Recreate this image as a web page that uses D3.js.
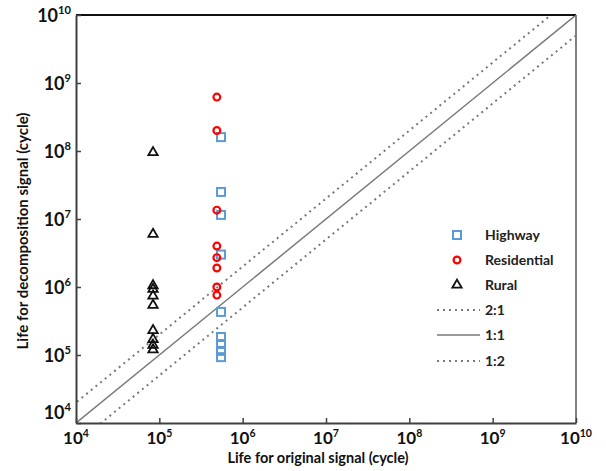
<!DOCTYPE html>
<html>
<head>
<meta charset="utf-8">
<script src="https://cdn.jsdelivr.net/npm/d3@7"></script>
<style>
  body { margin: 0; background: #fff; }
  svg { font-family: Lato, "Open Sans", sans-serif; font-weight: bold; }
</style>
</head>
<body>
<svg id="chart"></svg>
<script>
// decades shown on both axes
const tickExponents = [4, 5, 6, 7, 8, 9, 10];

// Highway (original life, decomposition life)
const highwayOriginal = [5.5e5, 5.5e5, 5.5e5, 5.5e5, 5.5e5, 5.5e5, 5.5e5, 5.5e5, 5.5e5];
const highwayDecomp = [1.6e8, 2.5e7, 1.15e7, 3.0e6, 4.3e5, 1.84e5, 1.45e5, 1.15e5, 9.3e4];

// Residential
const residentialOriginal = [4.9e5, 4.9e5, 4.9e5, 4.9e5, 4.9e5, 4.9e5, 4.9e5, 4.9e5];
const residentialDecomp = [6.2e8, 2.0e8, 1.35e7, 4.0e6, 2.7e6, 1.9e6, 1.0e6, 7.6e5];

// Rural
const ruralOriginal = [8.4e4, 8.4e4, 8.4e4, 8.4e4, 8.4e4, 8.4e4, 8.4e4, 8.4e4, 8.4e4, 8.4e4];
const ruralDecomp = [9.5e7, 6.0e6, 1.05e6, 9.3e5, 7.4e5, 5.4e5, 2.3e5, 1.7e5, 1.4e5, 1.2e5];

// reference lines: label and ratio decomp/original
const refLabels = ['2:1', '1:1', '1:2'];
const refRatios = [2, 1, 0.5];

const width = 606, height = 471;
const margin = { top: 15, right: 30, bottom: 48, left: 76 };
const lo = 1e4, hi = 1e10;

const svg = d3.select('#chart').attr('width', width).attr('height', height);

const x = d3.scaleLog().domain([lo, hi]).range([margin.left, width - margin.right]);
const y = d3.scaleLog().domain([lo, hi]).range([height - margin.bottom, margin.top]);

const lineGray = '#7a7a7a';

// clip for the ratio lines
svg.append('clipPath').attr('id', 'plotClip')
  .append('rect')
  .attr('x', x(lo)).attr('y', y(hi))
  .attr('width', x(hi) - x(lo)).attr('height', y(lo) - y(hi));

// ratio lines
const lineGen = d3.line().x(d => x(d[0])).y(d => y(d[1]));
refRatios.forEach((r, i) => {
  svg.append('path')
    .datum([[lo / 4, lo / 4 * r], [hi * 4, hi * 4 * r]])
    .attr('clip-path', 'url(#plotClip)')
    .attr('d', lineGen)
    .attr('fill', 'none')
    .attr('stroke', lineGray)
    .attr('stroke-width', r === 1 ? 1.5 : 2)
    .attr('stroke-dasharray', r === 1 ? null : '2,4');
});

// frame
svg.append('line').attr('x1', x(lo)).attr('x2', x(hi)).attr('y1', y(hi)).attr('y2', y(hi))
  .attr('stroke', '#111').attr('stroke-width', 2);
svg.append('line').attr('x1', x(hi)).attr('x2', x(hi)).attr('y1', y(hi)).attr('y2', y(lo))
  .attr('stroke', '#808080').attr('stroke-width', 2);

const tickVals = tickExponents.map(e => Math.pow(10, e));

const xAxis = svg.append('g')
  .attr('transform', `translate(0,${y(lo)})`)
  .call(d3.axisBottom(x).tickValues(tickVals).tickSize(-5).tickSizeOuter(0).tickFormat(''));
const yAxis = svg.append('g')
  .attr('transform', `translate(${x(lo)},0)`)
  .call(d3.axisLeft(y).tickValues(tickVals).tickSize(-5).tickSizeOuter(0).tickFormat(''));
[xAxis, yAxis].forEach(g => {
  g.select('.domain').attr('stroke', '#404040').attr('stroke-width', 2);
  g.selectAll('.tick line').attr('stroke', '#404040').attr('stroke-width', 1.5);
});

// tick labels with superscripts
function powLabel(g, e, size) {
  g.append('tspan').text('10').attr('font-size', size);
  g.append('tspan').text(e).attr('font-size', size * 0.62).attr('dy', -size * 0.42);
}
tickExponents.forEach(e => {
  const t = svg.append('text')
    .attr('x', x(Math.pow(10, e)))
    .attr('y', 444)
    .attr('text-anchor', 'middle')
    .attr('fill', '#111');
  powLabel(t, e, 17);
});
tickExponents.forEach(e => {
  const yy = e === 4 ? y(lo) - 4 : y(Math.pow(10, e)) + 7;
  const t = svg.append('text')
    .attr('x', 71)
    .attr('y', yy)
    .attr('text-anchor', 'end')
    .attr('fill', '#111');
  powLabel(t, e, 18);
});

// axis titles
svg.append('text')
  .attr('x', (x(lo) + x(hi)) / 2 - 8)
  .attr('y', 463)
  .attr('text-anchor', 'middle')
  .attr('font-size', 14.5)
  .attr('fill', '#111')
  .text('Life for original signal (cycle)');
svg.append('text')
  .attr('transform', `translate(28,${(y(lo) + y(hi)) / 2 + 12}) rotate(-90)`)
  .attr('text-anchor', 'middle')
  .attr('font-size', 15)
  .attr('fill', '#111')
  .text('Life for decomposition signal (cycle)');

// markers
const blue = '#5b9bd5', red = '#ff0000';
const triangle = d3.symbol().type(d3.symbolTriangle).size(38);

function drawSquares(g, xs, ys) {
  g.selectAll('rect.hw').data(xs.map((v, i) => [v, ys[i]])).enter()
    .append('rect')
    .attr('x', d => x(d[0]) - 4).attr('y', d => y(d[1]) - 4)
    .attr('width', 8).attr('height', 8)
    .attr('fill', 'none').attr('stroke', blue).attr('stroke-width', 2);
}
function drawCircles(g, xs, ys) {
  g.selectAll('circle.res').data(xs.map((v, i) => [v, ys[i]])).enter()
    .append('circle')
    .attr('cx', d => x(d[0])).attr('cy', d => y(d[1]))
    .attr('r', 3.4)
    .attr('fill', 'none').attr('stroke', red).attr('stroke-width', 2.2);
}
function drawTriangles(g, xs, ys) {
  g.selectAll('path.rur').data(xs.map((v, i) => [v, ys[i]])).enter()
    .append('path')
    .attr('d', triangle)
    .attr('transform', d => `translate(${x(d[0])},${y(d[1])})`)
    .attr('fill', 'none').attr('stroke', '#111').attr('stroke-width', 1.8);
}

const pts = svg.append('g');
drawSquares(pts.append('g'), highwayOriginal, highwayDecomp);
drawCircles(pts.append('g'), residentialOriginal, residentialDecomp);
drawTriangles(pts.append('g'), ruralOriginal, ruralDecomp);

// legend
const legend = svg.append('g');
const legendRows = [235, 260, 285, 310, 335, 361];
const markerX = 457, textX = 485;
legend.append('rect').attr('x', markerX - 4).attr('y', legendRows[0] - 4).attr('width', 8).attr('height', 8)
  .attr('fill', 'none').attr('stroke', blue).attr('stroke-width', 2);
legend.append('circle').attr('cx', markerX).attr('cy', legendRows[1]).attr('r', 3.4)
  .attr('fill', 'none').attr('stroke', red).attr('stroke-width', 2.2);
legend.append('path').attr('d', triangle).attr('transform', `translate(${markerX},${legendRows[2]})`)
  .attr('fill', 'none').attr('stroke', '#111').attr('stroke-width', 1.8);
refRatios.forEach((r, i) => {
  legend.append('line')
    .attr('x1', 437).attr('x2', 480)
    .attr('y1', legendRows[3 + i]).attr('y2', legendRows[3 + i])
    .attr('stroke', lineGray)
    .attr('stroke-width', r === 1 ? 1.5 : 2)
    .attr('stroke-dasharray', r === 1 ? null : '2,4');
});
const legendNames = ['Highway', 'Residential', 'Rural'].concat(refLabels);
legendNames.forEach((n, i) => {
  legend.append('text')
    .attr('x', textX).attr('y', legendRows[i] + 5)
    .attr('font-size', 14)
    .attr('fill', '#222')
    .text(n);
});
</script>
</body>
</html>
